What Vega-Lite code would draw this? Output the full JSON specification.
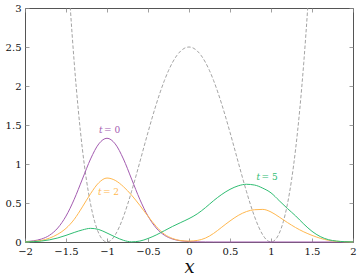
{
  "$schema": "https://vega.github.io/schema/vega-lite/v6.json",
  "width": 328,
  "height": 234,
  "autosize": {"type": "none"},
  "padding": {"left": 25, "top": 8, "right": 8, "bottom": 35},
  "background": "white",
  "config": {
    "view": {"stroke": "#555", "strokeWidth": 1},
    "axis": {"labelFont": "DejaVu Serif", "labelFontSize": 10, "labelColor": "#111", "grid": false, "domain": false, "tickColor": "#888", "tickWidth": 0.8, "tickSize": -4, "labelFlush": false, "labelOverlap": false}
  },
  "datasets": {
    "pot": [
      {"x": -1.55, "y": 4.9175}, {"x": -1.5, "y": 3.9063}, {"x": -1.45, "y": 3.0388}, {"x": -1.4, "y": 2.304}, {"x": -1.35, "y": 1.6913}, {"x": -1.3, "y": 1.1903}, {"x": -1.25, "y": 0.791}, {"x": -1.2, "y": 0.484}, {"x": -1.15, "y": 0.26}, {"x": -1.1, "y": 0.1103}, {"x": -1.05, "y": 0.0263}, {"x": -1.0, "y": 0},
      {"x": -0.95, "y": 0.0238}, {"x": -0.9, "y": 0.0903}, {"x": -0.85, "y": 0.1925}, {"x": -0.8, "y": 0.324}, {"x": -0.75, "y": 0.4785}, {"x": -0.7, "y": 0.6503}, {"x": -0.65, "y": 0.8338}, {"x": -0.6, "y": 1.024}, {"x": -0.55, "y": 1.2163}, {"x": -0.5, "y": 1.4063}, {"x": -0.45, "y": 1.59}, {"x": -0.4, "y": 1.764}, {"x": -0.35, "y": 1.925}, {"x": -0.3, "y": 2.0703}, {"x": -0.25, "y": 2.1973}, {"x": -0.2, "y": 2.304}, {"x": -0.15, "y": 2.3888}, {"x": -0.1, "y": 2.4503}, {"x": -0.05, "y": 2.4875},
      {"x": 0, "y": 2.5},
      {"x": 0.05, "y": 2.4875}, {"x": 0.1, "y": 2.4503}, {"x": 0.15, "y": 2.3888}, {"x": 0.2, "y": 2.304}, {"x": 0.25, "y": 2.1973}, {"x": 0.3, "y": 2.0703}, {"x": 0.35, "y": 1.925}, {"x": 0.4, "y": 1.764}, {"x": 0.45, "y": 1.59}, {"x": 0.5, "y": 1.4063}, {"x": 0.55, "y": 1.2163}, {"x": 0.6, "y": 1.024}, {"x": 0.65, "y": 0.8338}, {"x": 0.7, "y": 0.6503}, {"x": 0.75, "y": 0.4785}, {"x": 0.8, "y": 0.324}, {"x": 0.85, "y": 0.1925}, {"x": 0.9, "y": 0.0903}, {"x": 0.95, "y": 0.0238},
      {"x": 1.0, "y": 0}, {"x": 1.05, "y": 0.0263}, {"x": 1.1, "y": 0.1103}, {"x": 1.15, "y": 0.26}, {"x": 1.2, "y": 0.484}, {"x": 1.25, "y": 0.791}, {"x": 1.3, "y": 1.1903}, {"x": 1.35, "y": 1.6913}, {"x": 1.4, "y": 2.304}, {"x": 1.45, "y": 3.0388}, {"x": 1.5, "y": 3.9063}, {"x": 1.55, "y": 4.9175}
    ],
    "dens": [
      {"s": "0", "x": -2, "y": 0.005}, {"s": "0", "x": -1.9, "y": 0.015}, {"s": "0", "x": -1.8, "y": 0.038}, {"s": "0", "x": -1.7, "y": 0.087}, {"s": "0", "x": -1.6, "y": 0.18}, {"s": "0", "x": -1.5, "y": 0.332}, {"s": "0", "x": -1.4, "y": 0.547}, {"s": "0", "x": -1.3, "y": 0.807}, {"s": "0", "x": -1.2, "y": 1.065}, {"s": "0", "x": -1.1, "y": 1.258}, {"s": "0", "x": -1.0, "y": 1.33}, {"s": "0", "x": -0.9, "y": 1.258}, {"s": "0", "x": -0.8, "y": 1.065}, {"s": "0", "x": -0.7, "y": 0.807}, {"s": "0", "x": -0.6, "y": 0.547}, {"s": "0", "x": -0.5, "y": 0.332}, {"s": "0", "x": -0.4, "y": 0.18}, {"s": "0", "x": -0.3, "y": 0.087}, {"s": "0", "x": -0.2, "y": 0.038}, {"s": "0", "x": -0.1, "y": 0.015}, {"s": "0", "x": 0, "y": 0.005}, {"s": "0", "x": 0.1, "y": 0.002}, {"s": "0", "x": 0.2, "y": 0.0005}, {"s": "0", "x": 0.3, "y": 0}, {"s": "0", "x": 0.5, "y": 0}, {"s": "0", "x": 1.0, "y": 0}, {"s": "0", "x": 1.5, "y": 0}, {"s": "0", "x": 2.0, "y": 0},
      {"s": "2", "x": -2, "y": 0.003}, {"s": "2", "x": -1.9, "y": 0.008}, {"s": "2", "x": -1.8, "y": 0.02}, {"s": "2", "x": -1.7, "y": 0.05}, {"s": "2", "x": -1.6, "y": 0.1}, {"s": "2", "x": -1.5, "y": 0.175}, {"s": "2", "x": -1.4, "y": 0.29}, {"s": "2", "x": -1.3, "y": 0.45}, {"s": "2", "x": -1.2, "y": 0.62}, {"s": "2", "x": -1.1, "y": 0.76}, {"s": "2", "x": -1.0, "y": 0.82}, {"s": "2", "x": -0.9, "y": 0.79}, {"s": "2", "x": -0.8, "y": 0.71}, {"s": "2", "x": -0.7, "y": 0.6}, {"s": "2", "x": -0.6, "y": 0.47}, {"s": "2", "x": -0.5, "y": 0.33}, {"s": "2", "x": -0.4, "y": 0.2}, {"s": "2", "x": -0.3, "y": 0.1}, {"s": "2", "x": -0.2, "y": 0.045}, {"s": "2", "x": -0.1, "y": 0.018}, {"s": "2", "x": 0, "y": 0.012}, {"s": "2", "x": 0.1, "y": 0.02}, {"s": "2", "x": 0.2, "y": 0.05}, {"s": "2", "x": 0.3, "y": 0.11}, {"s": "2", "x": 0.4, "y": 0.19}, {"s": "2", "x": 0.5, "y": 0.27}, {"s": "2", "x": 0.6, "y": 0.34}, {"s": "2", "x": 0.7, "y": 0.39}, {"s": "2", "x": 0.8, "y": 0.414}, {"s": "2", "x": 0.9, "y": 0.418}, {"s": "2", "x": 1.0, "y": 0.385}, {"s": "2", "x": 1.1, "y": 0.32}, {"s": "2", "x": 1.2, "y": 0.25}, {"s": "2", "x": 1.3, "y": 0.185}, {"s": "2", "x": 1.4, "y": 0.13}, {"s": "2", "x": 1.5, "y": 0.085}, {"s": "2", "x": 1.6, "y": 0.048}, {"s": "2", "x": 1.7, "y": 0.022}, {"s": "2", "x": 1.8, "y": 0.009}, {"s": "2", "x": 1.9, "y": 0.003}, {"s": "2", "x": 2.0, "y": 0.001},
      {"s": "5", "x": -2, "y": 0.001}, {"s": "5", "x": -1.9, "y": 0.004}, {"s": "5", "x": -1.8, "y": 0.012}, {"s": "5", "x": -1.7, "y": 0.028}, {"s": "5", "x": -1.6, "y": 0.052}, {"s": "5", "x": -1.5, "y": 0.085}, {"s": "5", "x": -1.4, "y": 0.122}, {"s": "5", "x": -1.3, "y": 0.155}, {"s": "5", "x": -1.2, "y": 0.175}, {"s": "5", "x": -1.1, "y": 0.16}, {"s": "5", "x": -1.0, "y": 0.115}, {"s": "5", "x": -0.9, "y": 0.065}, {"s": "5", "x": -0.8, "y": 0.022}, {"s": "5", "x": -0.7, "y": 0.002}, {"s": "5", "x": -0.6, "y": 0.012}, {"s": "5", "x": -0.5, "y": 0.045}, {"s": "5", "x": -0.4, "y": 0.09}, {"s": "5", "x": -0.3, "y": 0.145}, {"s": "5", "x": -0.2, "y": 0.2}, {"s": "5", "x": -0.1, "y": 0.25}, {"s": "5", "x": 0, "y": 0.3}, {"s": "5", "x": 0.1, "y": 0.36}, {"s": "5", "x": 0.2, "y": 0.44}, {"s": "5", "x": 0.3, "y": 0.53}, {"s": "5", "x": 0.4, "y": 0.61}, {"s": "5", "x": 0.5, "y": 0.675}, {"s": "5", "x": 0.6, "y": 0.72}, {"s": "5", "x": 0.7, "y": 0.74}, {"s": "5", "x": 0.8, "y": 0.73}, {"s": "5", "x": 0.9, "y": 0.69}, {"s": "5", "x": 1.0, "y": 0.63}, {"s": "5", "x": 1.1, "y": 0.53}, {"s": "5", "x": 1.2, "y": 0.43}, {"s": "5", "x": 1.3, "y": 0.335}, {"s": "5", "x": 1.4, "y": 0.23}, {"s": "5", "x": 1.5, "y": 0.137}, {"s": "5", "x": 1.6, "y": 0.07}, {"s": "5", "x": 1.7, "y": 0.03}, {"s": "5", "x": 1.8, "y": 0.012}, {"s": "5", "x": 1.9, "y": 0.004}, {"s": "5", "x": 2.0, "y": 0.001}
    ],
    "labels": [
      {"s": "0", "x": -0.963, "y": 1.436, "n": "= 0"},
      {"s": "2", "x": -0.976, "y": 0.637, "n": "= 2"},
      {"s": "5", "x": 0.957, "y": 0.837, "n": "= 5"}
    ],
    "dummy": [{"x": 0, "y": 0}]
  },
  "layer": [
    {
      "data": {"name": "pot"},
      "mark": {"type": "line", "clip": true, "interpolate": "monotone", "color": "#999", "strokeWidth": 0.9, "strokeDash": [3.5, 2]},
      "encoding": {
        "x": {"field": "x", "type": "quantitative", "scale": {"domain": [-2, 2], "nice": false},
          "axis": {"orient": "bottom", "values": [-2, -1.5, -1, -0.5, 0, 0.5, 1, 1.5, 2], "format": "~g", "labelPadding": 8.5,
            "title": "x", "titleFont": "DejaVu Serif", "titleFontStyle": "italic", "titleFontWeight": "normal", "titleFontSize": 18, "titleColor": "#111", "titlePadding": 2}},
        "y": {"field": "y", "type": "quantitative", "scale": {"domain": [0, 3], "nice": false},
          "axis": {"orient": "left", "values": [0, 0.5, 1, 1.5, 2, 2.5, 3], "format": "~g", "labelPadding": 8, "title": null}}
      }
    },
    {
      "data": {"name": "dens"},
      "mark": {"type": "line", "interpolate": "monotone", "strokeWidth": 1},
      "encoding": {
        "x": {"field": "x", "type": "quantitative", "axis": null},
        "y": {"field": "y", "type": "quantitative", "axis": null},
        "color": {"field": "s", "type": "nominal", "scale": {"domain": ["0", "2", "5"], "range": ["#a35bb0", "#ffb84f", "#2fbd72"]}, "legend": null}
      }
    },
    {
      "data": {"name": "labels"},
      "mark": {"type": "text", "font": "DejaVu Serif", "fontSize": 9, "fontStyle": "italic", "align": "left", "baseline": "middle", "dx": -11},
      "encoding": {
        "x": {"field": "x", "type": "quantitative", "axis": null},
        "y": {"field": "y", "type": "quantitative", "axis": null},
        "text": {"value": "t"},
        "color": {"field": "s", "type": "nominal", "legend": null}
      }
    },
    {
      "data": {"name": "labels"},
      "mark": {"type": "text", "font": "DejaVu Serif", "fontSize": 9, "align": "left", "baseline": "middle", "dx": -6},
      "encoding": {
        "x": {"field": "x", "type": "quantitative", "axis": null},
        "y": {"field": "y", "type": "quantitative", "axis": null},
        "text": {"field": "n"},
        "color": {"field": "s", "type": "nominal", "legend": null}
      }
    },
    {
      "data": {"name": "dummy"},
      "mark": {"type": "point", "opacity": 0},
      "encoding": {
        "x": {"field": "x", "type": "quantitative", "axis": {"orient": "top", "values": [-2, -1.5, -1, -0.5, 0, 0.5, 1, 1.5, 2], "labels": false, "title": null}},
        "y": {"field": "y", "type": "quantitative", "axis": {"orient": "right", "values": [0, 0.5, 1, 1.5, 2, 2.5, 3], "labels": false, "title": null}}
      }
    }
  ],
  "resolve": {"axis": {"x": "independent", "y": "independent"}}
}
